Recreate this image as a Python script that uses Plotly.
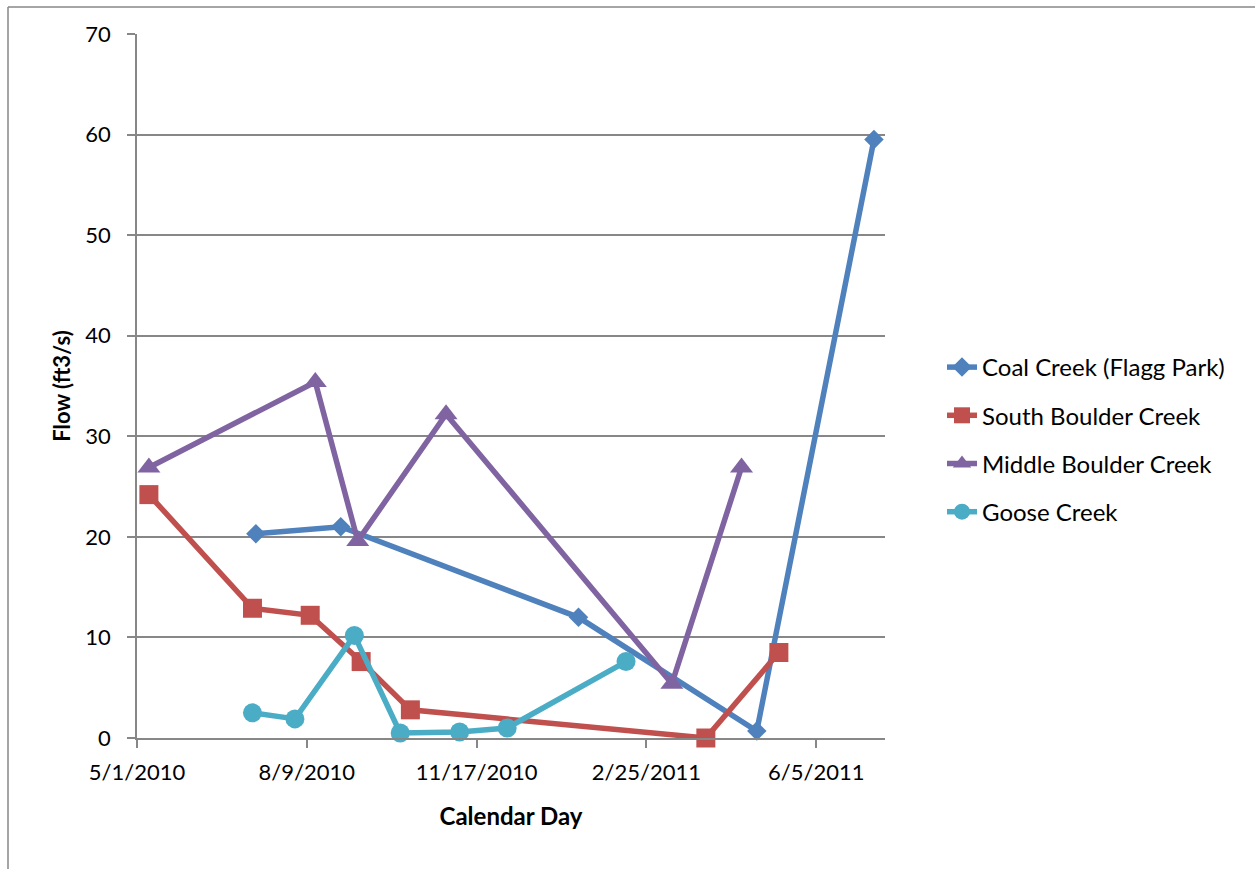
import plotly.graph_objects as go

# ---- data ----
coal_dates = ["2010-07-10", "2010-08-29", "2011-01-16", "2011-05-01", "2011-07-09"]
coal_flow = [20.3, 21.0, 12.0, 0.7, 59.5]

south_dates = ["2010-05-08", "2010-07-08", "2010-08-11", "2010-09-10", "2010-10-09", "2011-04-01", "2011-05-14"]
south_flow = [24.2, 12.9, 12.2, 7.6, 2.8, 0.0, 8.5]

middle_dates = ["2010-05-08", "2010-08-14", "2010-09-08", "2010-10-30", "2011-03-12", "2011-04-22"]
middle_flow = [26.9, 35.4, 19.6, 32.2, 5.4, 26.9]

goose_dates = ["2010-07-08", "2010-08-02", "2010-09-06", "2010-10-03", "2010-11-07", "2010-12-05", "2011-02-13"]
goose_flow = [2.5, 1.9, 10.2, 0.5, 0.6, 1.0, 7.6]

series_names = ["Coal Creek (Flagg Park)", "South Boulder Creek", "Middle Boulder Creek", "Goose Creek"]
x_range = ["2010-05-01", "2011-07-15 12:00"]
y_ticks = [0, 10, 20, 30, 40, 50, 60, 70]

# ---- style ----
FONT = "Lato"
colors = ["#4F81BD", "#C0504D", "#8064A2", "#4BACC6"]
symbols = ["diamond", "square", "triangle-up", "circle"]
sizes = [15, 19, 20, 19]
GRID = "#878787"

W, H = 1255, 869
L, R, T, B = 137, 370, 34, 131
pw, ph = W - L - R, H - T - B

fig = go.Figure()
data = [(coal_dates, coal_flow), (south_dates, south_flow), (middle_dates, middle_flow), (goose_dates, goose_flow)]
for i, (xd, yd) in enumerate(data):
    fig.add_trace(go.Scatter(
        x=xd, y=yd, mode="lines+markers", name=series_names[i],
        legendgroup=series_names[i], cliponaxis=False,
        line=dict(color=colors[i], width=5.5),
        marker=dict(symbol=symbols[i], size=sizes[i], color=colors[i], line=dict(width=0)),
    ))

def px(xp):
    return (xp - L) / pw

def py(yp):
    return (H - B - yp) / ph

fig.update_layout(
    width=W, height=H,
    margin=dict(l=L, r=R, t=T, b=B, pad=0),
    paper_bgcolor="white", plot_bgcolor="white",
    font=dict(family=FONT, size=22, color="black"),
    showlegend=True,
    legend=dict(
        x=px(942), y=py(345), xanchor="left", yanchor="top",
        font=dict(family=FONT, size=24, color="black"),
        traceorder="grouped", tracegroupgap=14,
        bgcolor="rgba(0,0,0,0)",
    ),
    xaxis=dict(
        type="date", range=x_range,
        tick0="2010-05-01", dtick=100 * 86400000,
        tickformat="%-m/%-d/%Y",
        showgrid=False, zeroline=False,
        showline=True, linecolor=GRID, linewidth=1.5,
        ticks="outside", ticklen=8, tickwidth=1.5, tickcolor=GRID,
        tickfont=dict(family=FONT, size=22, color="black"),
        ticklabelstandoff=6,
        title=dict(text="<b>Calendar Day</b>", font=dict(family=FONT, size=24, color="black"), standoff=24),
    ),
    yaxis=dict(
        range=[0, 70], tickvals=y_ticks,
        showgrid=True, gridcolor=GRID, gridwidth=1.5,
        zeroline=False,
        showline=True, linecolor=GRID, linewidth=1.5,
        ticks="outside", ticklen=8, tickwidth=1.5, tickcolor=GRID,
        tickfont=dict(family=FONT, size=22, color="black"),
        ticklabelstandoff=12,
        title=dict(text="<b>Flow (ft3/s)</b>", font=dict(family=FONT, size=22, color="black"), standoff=9),
    ),
    shapes=[
        dict(type="line", xref="paper", yref="paper", x0=px(8), x1=px(8), y0=py(7), y1=py(H + 5),
             line=dict(color=GRID, width=1.5)),
        dict(type="line", xref="paper", yref="paper", x0=px(8), x1=px(W + 5), y0=py(7), y1=py(7),
             line=dict(color=GRID, width=1.5)),
    ],
)

fig.write_html("out.html")
